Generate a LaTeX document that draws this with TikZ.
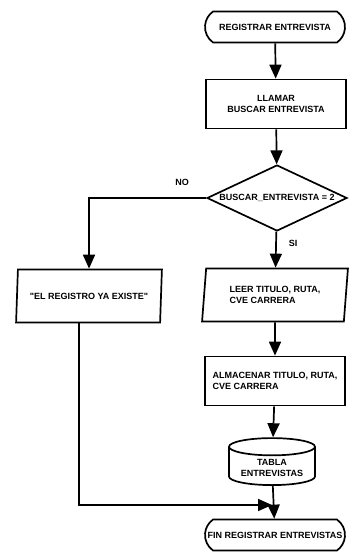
\documentclass[tikz,border=0pt]{standalone}
\usepackage{fontspec}
\setmainfont{Liberation Sans}
\usepackage{tikz}
\usetikzlibrary{arrows.meta, shapes.geometric, shapes.misc}

\begin{document}
\begin{tikzpicture}[
    x=1pt, y=-1pt,
    font=\fontsize{9}{10.5}\selectfont\bfseries,
    line width=1.7pt,
    terminal/.style={rounded rectangle, rounded rectangle arc length=110, draw, minimum width=140pt, minimum height=31pt, inner sep=0pt},
    process/.style={rectangle, draw, minimum width=140pt, minimum height=49pt, align=left},
    decision/.style={diamond, draw, minimum width=140pt, minimum height=66pt, inner sep=0pt},
    io/.style={trapezium, trapezium left angle=83, trapezium right angle=97, trapezium stretches=true, draw, minimum width=146pt, minimum height=53pt, align=left},
    store/.style={cylinder, shape border rotate=90, aspect=0.25, draw, minimum width=86pt, minimum height=47pt, align=center},
    flow/.style={-{Triangle[length=14pt,width=12pt]}}
]
    \useasboundingbox (0,0) rectangle (348,556);

    % Main column
    \node[terminal] (start) at (275, 27) {REGISTRAR ENTREVISTA};
    \node[process, align=center] (call) at (276, 104) {LLAMAR\\BUSCAR ENTREVISTA};
    \node[decision] (check) at (277, 198) {\makebox[0pt]{BUSCAR\_ENTREVISTA = 2}};
    \node[io] (read) at (275, 295) {LEER TITULO, RUTA,\\CVE CARRERA};
    \node[process] (save) at (275, 381) {ALMACENAR TITULO, RUTA,\\CVE CARRERA};
    \node[store] (table) at (272, 468) {TABLA\\ENTREVISTAS};
    \node[terminal] (finish) at (275, 535) {\makebox[0pt]{FIN REGISTRAR ENTREVISTAS}};

    % Left branch
    \node[io] (exists) at (89, 296) {\textquotedbl EL REGISTRO YA EXISTE\textquotedbl};
    \coordinate (merge) at (272, 505);

    % Labels
    \node (nolabel) at (182, 182) {NO};
    \node (silabel) at (293, 243) {SI};

    % Connectors
    \draw[flow] (start) -- (call);
    \draw[flow] (call) -- (check);
    \draw[flow] (check) -- (read);
    \draw[flow] (check.west) -| (exists.north);
    \draw[flow] (read) -- (save);
    \draw[flow] (save) -- (table);
    \draw[flow] (table) -- (finish);
    \draw[flow] ([xshift=-10pt]exists.south) |- (merge);
\end{tikzpicture}
\end{document}
